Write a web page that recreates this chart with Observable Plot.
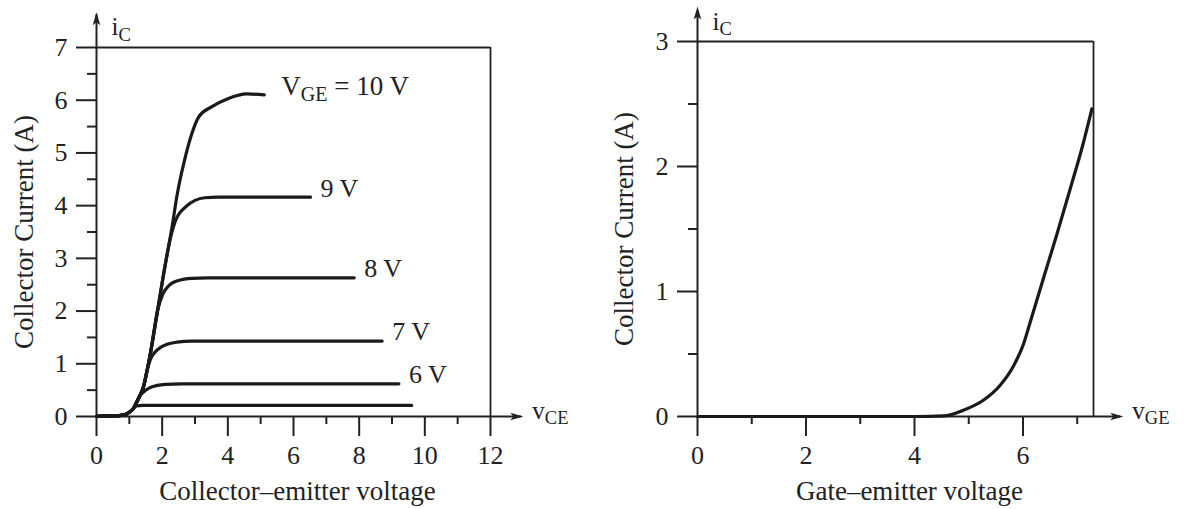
<!DOCTYPE html>
<html><head><meta charset="utf-8">
<script src="https://cdn.jsdelivr.net/npm/d3@7"></script>
<script src="https://cdn.jsdelivr.net/npm/@observablehq/plot@0.6"></script>
<style>
html,body{margin:0;padding:0;background:#fff;}
#wrap{display:flex;width:1191px;height:509px;overflow:hidden;}
#wrap svg{display:block;}
</style></head><body><div id="wrap"></div>
<script>
// ---------- Left chart: output characteristics ----------
const curveLabels = ["V_GE = 10 V", "9 V", "8 V", "7 V", "6 V", ""];
const vce10 = [0, 0.5, 0.85, 1.0, 1.12, 1.2, 1.3, 1.43, 1.55, 1.64, 1.86, 2.08, 2.3, 2.46, 2.68, 2.9, 3.11, 3.49, 4.0, 4.58, 5.11];
const ic10  = [0.005, 0.01, 0.03, 0.08, 0.15, 0.24, 0.37, 0.56, 0.9, 1.19, 2.01, 2.83, 3.59, 4.22, 4.86, 5.36, 5.68, 5.87, 6.03, 6.12, 6.10];
const vce9  = [0, 0.5, 0.85, 1.0, 1.12, 1.2, 1.3, 1.43, 1.55, 1.64, 1.86, 2.08, 2.22, 2.41, 2.74, 3.0, 3.3, 3.7, 6.52];
const ic9   = [0.005, 0.01, 0.03, 0.08, 0.15, 0.24, 0.37, 0.56, 0.9, 1.19, 2.01, 2.83, 3.3, 3.72, 3.99, 4.1, 4.15, 4.16, 4.16];
const vce8  = [0, 0.5, 0.85, 1.0, 1.12, 1.2, 1.3, 1.43, 1.55, 1.64, 1.86, 2.02, 2.2, 2.5, 2.9, 3.4, 7.85];
const ic8   = [0.005, 0.01, 0.03, 0.08, 0.15, 0.24, 0.37, 0.56, 0.9, 1.19, 2.01, 2.32, 2.48, 2.58, 2.62, 2.63, 2.63];
const vce7  = [0, 0.5, 0.85, 1.0, 1.12, 1.2, 1.3, 1.43, 1.55, 1.64, 1.78, 1.95, 2.15, 2.45, 2.9, 8.7];
const ic7   = [0.005, 0.01, 0.03, 0.08, 0.15, 0.24, 0.37, 0.56, 0.9, 1.08, 1.22, 1.31, 1.37, 1.41, 1.43, 1.43];
const vce6  = [0, 0.5, 0.85, 1.0, 1.12, 1.2, 1.3, 1.42, 1.6, 1.85, 2.1, 2.6, 9.21];
const ic6   = [0.005, 0.01, 0.03, 0.08, 0.15, 0.24, 0.37, 0.46, 0.54, 0.59, 0.61, 0.62, 0.62];
const vce5  = [0, 0.5, 0.85, 1.0, 1.12, 1.22, 1.4, 9.6];
const ic5   = [0.005, 0.01, 0.03, 0.08, 0.15, 0.2, 0.21, 0.21];
const vceSeries = [vce10, vce9, vce8, vce7, vce6, vce5];
const icSeries  = [ic10, ic9, ic8, ic7, ic6, ic5];

const xMajorLeft = [0, 2, 4, 6, 8, 10, 12];
const xMinorLeft = [1, 3, 5, 7, 9, 11];
const yMajorLeft = [0, 1, 2, 3, 4, 5, 6, 7];
const yMinorLeft = [0.5, 1.5, 2.5, 3.5, 4.5, 5.5, 6.5];
const xDomainLeft = [0, 12];
const yDomainLeft = [0, 7];
const xArrowLeft = 13.0;   // end of the v_CE axis arrow
const yArrowLeft = 7.67;   // end of the i_C axis arrow

// ---------- Right chart: transfer characteristic ----------
const vgeValues = [0, 1, 2, 3, 4, 4.54, 4.9, 5.27, 5.58, 5.82, 6.01, 6.13, 6.38, 6.62, 6.87, 7.12, 7.27];
const icValues  = [0, 0, 0, 0, 0, 0.005, 0.05, 0.13, 0.25, 0.40, 0.58, 0.75, 1.11, 1.45, 1.82, 2.2, 2.46];
const xMajorRight = [0, 2, 4, 6];
const xMinorRight = [1, 3, 5, 7];
const yMajorRight = [0, 1, 2, 3];
const yMinorRight = [0.5, 1.5, 2.5];
const xDomainRight = [0, 7.3];
const yDomainRight = [0, 3];
const xArrowRight = 7.85;
const yArrowRight = 3.28;

const INK = "#222";
const FONT = "Liberation Serif, Times New Roman, serif";
const intFmt = d => String(d);

const arrowUp = {draw(ctx){ ctx.moveTo(0,0); ctx.lineTo(-3.8,13); ctx.lineTo(0,10); ctx.lineTo(3.8,13); ctx.closePath(); }};
const arrowRight = {draw(ctx){ ctx.moveTo(0,0); ctx.lineTo(-13,-3.8); ctx.lineTo(-10,0); ctx.lineTo(-13,3.8); ctx.closePath(); }};

function commonAxes(o) {
  return [
    Plot.axisX({ticks: o.xMajor, tickSize: 20, tickPadding: 9, tickFormat: intFmt, label: null, fontSize: 26, stroke: INK, strokeWidth: 2, fill: INK}),
    Plot.axisX({ticks: o.xMinor, tickSize: 8, tickFormat: () => "", label: null, stroke: INK, strokeWidth: 2}),
    Plot.axisY({ticks: o.yMajor, tickSize: 20, tickPadding: 9, tickFormat: intFmt, label: null, fontSize: 26, stroke: INK, strokeWidth: 2, fill: INK}),
    Plot.axisY({ticks: o.yMinor, tickSize: 9, tickFormat: () => "", label: null, stroke: INK, strokeWidth: 2}),
    // axis lines with arrows
    Plot.ruleY([0], {x1: 0, x2: o.xArrow - 0.05, stroke: INK, strokeWidth: 2}),
    Plot.ruleX([0], {y1: 0, y2: o.yArrow - 0.05, stroke: INK, strokeWidth: 2}),
    Plot.dot([o.xArrow], {x: d => d, y: 0, symbol: arrowRight, fill: INK, stroke: "none"}),
    Plot.dot([o.yArrow], {x: 0, y: d => d, symbol: arrowUp, fill: INK, stroke: "none"}),
    // frame top & right
    Plot.ruleY([o.yDomain[1]], {x1: o.xDomain[0], x2: o.xDomain[1], stroke: INK, strokeWidth: 1.8}),
    Plot.ruleX([o.xDomain[1]], {y1: o.yDomain[0], y2: o.yDomain[1], stroke: INK, strokeWidth: 1.8}),
    // axis-end labels
    Plot.text([o.yArrow], {x: 0, y: d => d, text: () => "i_C", textAnchor: "start", dx: 15, dy: 15, fontSize: 25, fill: INK}),
    Plot.text([o.xArrow], {x: d => d, y: 0, text: () => o.xName, textAnchor: "start", dx: 9, dy: -6, fontSize: 25, fill: INK}),
    // titles
    Plot.text([o.yTitle], {frameAnchor: "left", text: d => d, rotate: -90, textAnchor: "middle", lineAnchor: "middle", dx: o.yTitleDx, fontSize: 27, fill: INK}),
    Plot.text([o.xTitle], {frameAnchor: "bottom", text: d => d, textAnchor: "middle", lineAnchor: "middle", dx: o.xTitleDx, dy: 75, fontSize: 27, fill: INK})
  ];
}

function subscripts(svg) {
  d3.select(svg).selectAll("text").each(function() {
    const el = this;
    if (el.querySelector("tspan")) return;
    const m = /^(.*?)_([A-Za-z]+)(.*)$/.exec(el.textContent);
    if (!m) return;
    el.textContent = "";
    const a = document.createElementNS("http://www.w3.org/2000/svg", "tspan");
    a.textContent = m[1]; el.appendChild(a);
    const b = document.createElementNS("http://www.w3.org/2000/svg", "tspan");
    b.textContent = m[2]; b.setAttribute("font-size", "0.74em"); b.setAttribute("dy", "0.32em"); el.appendChild(b);
    if (m[3]) {
      const c = document.createElementNS("http://www.w3.org/2000/svg", "tspan");
      c.textContent = m[3]; c.setAttribute("dy", (-0.32 * 0.74).toFixed(3) + "em"); el.appendChild(c);
    }
  });
}

// rows for left chart
const leftRows = [];
vceSeries.forEach((vs, k) => vs.forEach((v, j) => leftRows.push({v, i: icSeries[k][j], s: k})));
const leftEnds = vceSeries.map((vs, k) => ({v: vs[vs.length - 1], i: icSeries[k][icSeries[k].length - 1], label: curveLabels[k]})).filter(d => d.label);

const left = Plot.plot({
  width: 595, height: 509,
  marginLeft: 96, marginRight: 105, marginTop: 47, marginBottom: 93,
  x: {domain: xDomainLeft}, y: {domain: yDomainLeft},
  style: {fontFamily: FONT, color: INK, background: "white", overflow: "visible"},
  marks: [
    ...commonAxes({xMajor: xMajorLeft, xMinor: xMinorLeft, yMajor: yMajorLeft, yMinor: yMinorLeft,
      xArrow: xArrowLeft, yArrow: yArrowLeft, xDomain: xDomainLeft, yDomain: yDomainLeft, xName: "v_CE",
      yTitle: "Collector Current (A)", yTitleDx: -72, xTitle: "Collector\u2013emitter voltage", xTitleDx: 4}),
    Plot.line(leftRows, {x: "v", y: "i", z: "s", curve: "monotone-x", stroke: "#1a1a1a", strokeWidth: 3.2}),
    Plot.text(leftEnds.slice(0, 1), {x: "v", y: "i", text: "label", textAnchor: "start", dx: 17, dy: -9, fontSize: 27, fill: INK}),
    Plot.text(leftEnds.slice(1), {x: "v", y: "i", text: "label", textAnchor: "start", dx: 10, dy: -9, fontSize: 26, fill: INK})
  ]
});

const rightRows = vgeValues.map((v, j) => ({v, i: icValues[j]}));
const right = Plot.plot({
  width: 596, height: 509,
  marginLeft: 102, marginRight: 98, marginTop: 41, marginBottom: 93,
  x: {domain: xDomainRight}, y: {domain: yDomainRight},
  style: {fontFamily: FONT, color: INK, background: "white", overflow: "visible"},
  marks: [
    ...commonAxes({xMajor: xMajorRight, xMinor: xMinorRight, yMajor: yMajorRight, yMinor: yMinorRight,
      xArrow: xArrowRight, yArrow: yArrowRight, xDomain: xDomainRight, yDomain: yDomainRight, xName: "v_GE",
      yTitle: "Collector Current (A)", yTitleDx: -73, xTitle: "Gate\u2013emitter voltage", xTitleDx: 14}),
    Plot.line(rightRows, {x: "v", y: "i", curve: "monotone-x", stroke: "#1a1a1a", strokeWidth: 3.2})
  ]
});

subscripts(left); subscripts(right);
document.getElementById("wrap").append(left, right);
</script></body></html>
